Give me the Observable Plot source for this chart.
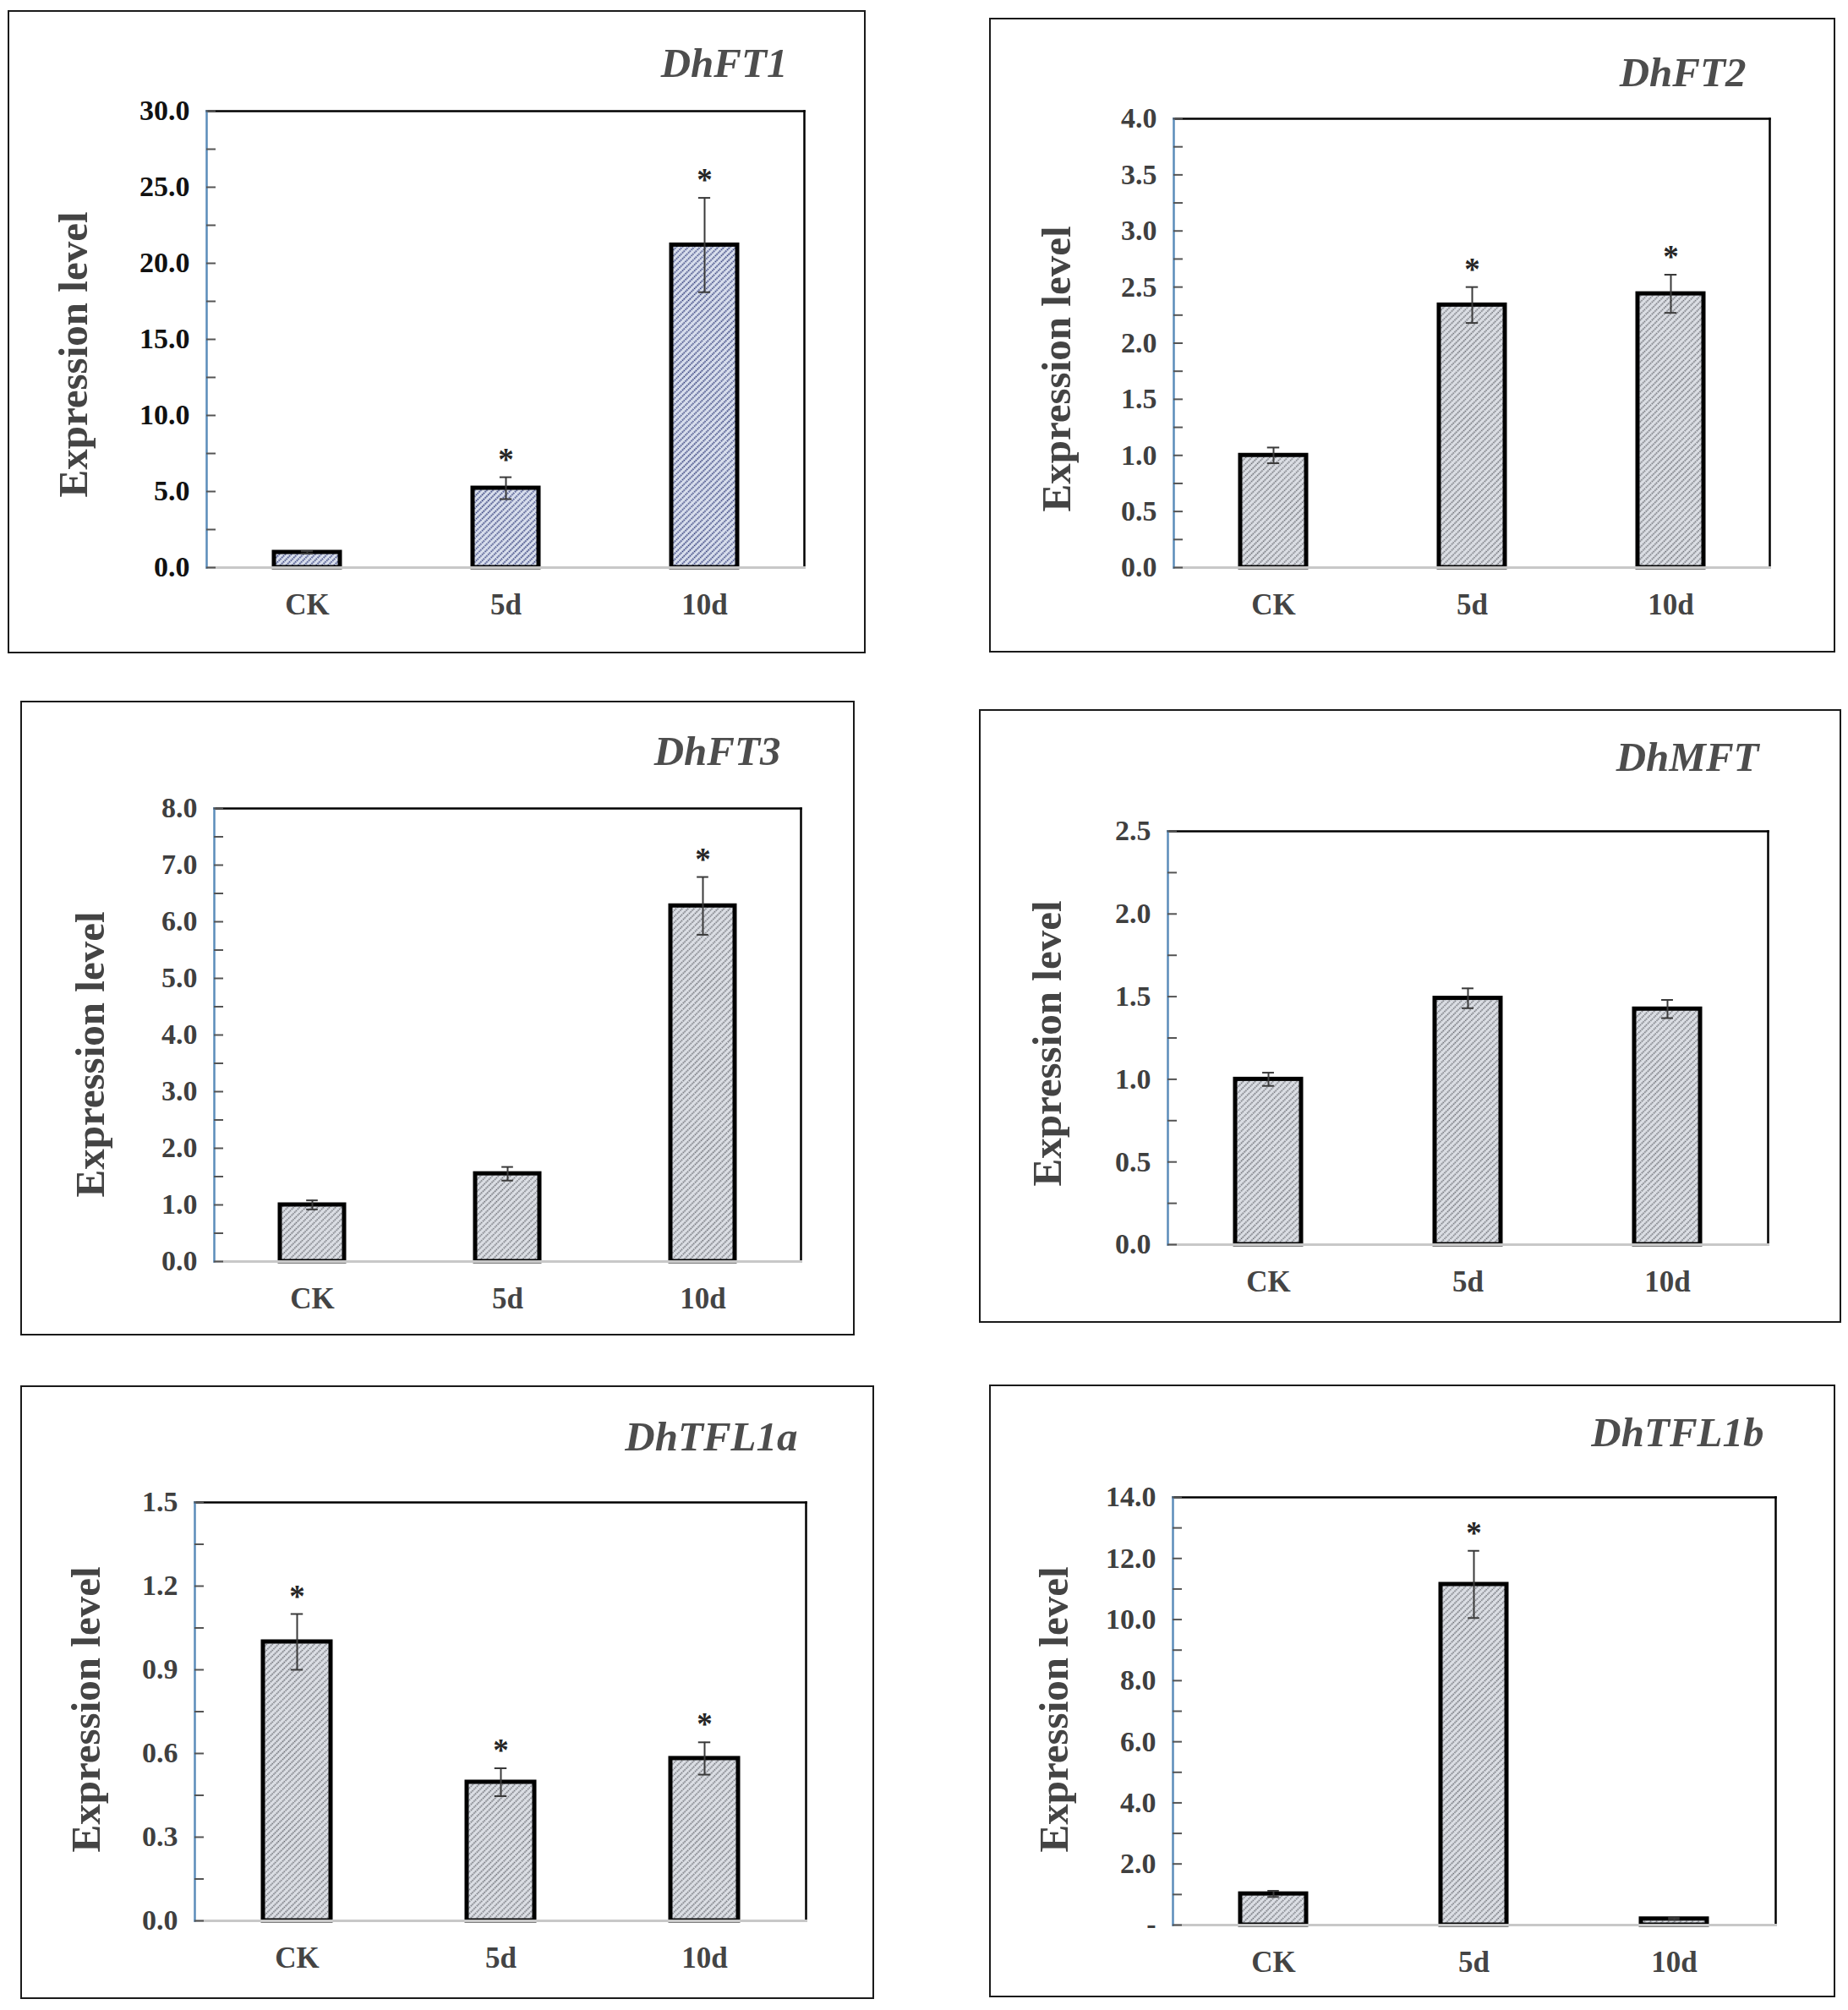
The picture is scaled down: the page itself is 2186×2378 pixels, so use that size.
<!DOCTYPE html>
<html><head><meta charset="utf-8">
<script src="https://cdn.jsdelivr.net/npm/d3@7"></script>
<script src="https://cdn.jsdelivr.net/npm/@observablehq/plot@0.6"></script>
<style>
html,body{margin:0;padding:0;background:#fff;}
#page{position:relative;width:2186px;height:2378px;background:#fff;overflow:hidden;}
.panel{position:absolute;}
.panel svg{display:block;max-width:none;}
.border{position:absolute;left:0;top:0;right:0;bottom:0;border:2.5px solid #1a1a1a;box-sizing:border-box;pointer-events:none;}
</style></head>
<body>
<svg width="0" height="0" style="position:absolute">
<defs>
<pattern id="hatchBlue" patternUnits="userSpaceOnUse" width="5" height="5" patternTransform="rotate(45)">
<rect width="5" height="5" fill="#dce2ef"/>
<line x1="2.5" y1="0" x2="2.5" y2="5" stroke="#1f2a6e" stroke-width="1.7" stroke-dasharray="1.6 0.9"/>
</pattern>
<pattern id="hatchGray" patternUnits="userSpaceOnUse" width="5" height="5" patternTransform="rotate(45)">
<rect width="5" height="5" fill="#dde0e6"/>
<line x1="2.5" y1="0" x2="2.5" y2="5" stroke="#62646b" stroke-width="1.6" stroke-dasharray="1.6 0.9"/>
</pattern>
</defs></svg>
<div id="page"></div>
<script>
const categories = ["CK", "5d", "10d"];

const dhFT1Mean = [1.0, 5.22, 21.2];
const dhFT1Err = [0.08, 0.72, 3.1];
const dhFT1Star = ["", "*", "*"];
const dhFT1Ticks = [0, 5, 10, 15, 20, 25, 30];
const dhFT1TickLabels = ["0.0", "5.0", "10.0", "15.0", "20.0", "25.0", "30.0"];

const dhFT2Mean = [1.0, 2.34, 2.44];
const dhFT2Err = [0.07, 0.16, 0.17];
const dhFT2Star = ["", "*", "*"];
const dhFT2Ticks = [0, 0.5, 1, 1.5, 2, 2.5, 3, 3.5, 4];
const dhFT2TickLabels = ["0.0", "0.5", "1.0", "1.5", "2.0", "2.5", "3.0", "3.5", "4.0"];

const dhFT3Mean = [1.0, 1.55, 6.28];
const dhFT3Err = [0.08, 0.12, 0.51];
const dhFT3Star = ["", "", "*"];
const dhFT3Ticks = [0, 1, 2, 3, 4, 5, 6, 7, 8];
const dhFT3TickLabels = ["0.0", "1.0", "2.0", "3.0", "4.0", "5.0", "6.0", "7.0", "8.0"];

const dhMFTMean = [1.0, 1.49, 1.425];
const dhMFTErr = [0.04, 0.06, 0.055];
const dhMFTStar = ["", "", ""];
const dhMFTTicks = [0, 0.5, 1, 1.5, 2, 2.5];
const dhMFTTickLabels = ["0.0", "0.5", "1.0", "1.5", "2.0", "2.5"];

const dhTFL1aMean = [1.0, 0.497, 0.582];
const dhTFL1aErr = [0.1, 0.05, 0.058];
const dhTFL1aStar = ["*", "*", "*"];
const dhTFL1aTicks = [0, 0.3, 0.6, 0.9, 1.2, 1.5];
const dhTFL1aTickLabels = ["0.0", "0.3", "0.6", "0.9", "1.2", "1.5"];

const dhTFL1bMean = [1.02, 11.15, 0.2];
const dhTFL1bErr = [0.1, 1.1, 0.03];
const dhTFL1bStar = ["", "*", ""];
const dhTFL1bTicks = [0, 2, 4, 6, 8, 10, 12, 14];
const dhTFL1bTickLabels = ["-", "2.0", "4.0", "6.0", "8.0", "10.0", "12.0", "14.0"];

const PAD = 0.67;

const panels = [
  {title: "DhFT1", mean: dhFT1Mean, err: dhFT1Err, star: dhFT1Star, ticks: dhFT1Ticks, labels: dhFT1TickLabels,
   pattern: "url(#hatchBlue)", tickColor: "#111", box: [9, 12, 1024, 773], plot: [244, 951, 131, 671],
   ylab: [87, 419], ttl: [931, 90]},
  {title: "DhFT2", mean: dhFT2Mean, err: dhFT2Err, star: dhFT2Star, ticks: dhFT2Ticks, labels: dhFT2TickLabels,
   pattern: "url(#hatchGray)", tickColor: "#3f3f3f", box: [1170, 21, 2171, 772], plot: [1388, 2093, 140, 671],
   ylab: [1250, 436], ttl: [2065, 101]},
  {title: "DhFT3", mean: dhFT3Mean, err: dhFT3Err, star: dhFT3Star, ticks: dhFT3Ticks, labels: dhFT3TickLabels,
   pattern: "url(#hatchGray)", tickColor: "#3f3f3f", box: [24, 829, 1011, 1580], plot: [253, 947, 956, 1492],
   ylab: [107, 1247], ttl: [923, 904]},
  {title: "DhMFT", mean: dhMFTMean, err: dhMFTErr, star: dhMFTStar, ticks: dhMFTTicks, labels: dhMFTTickLabels,
   pattern: "url(#hatchGray)", tickColor: "#3f3f3f", box: [1158, 839, 2178, 1565], plot: [1381, 2091, 983, 1472],
   ylab: [1239, 1234], ttl: [2080, 911]},
  {title: "DhTFL1a", mean: dhTFL1aMean, err: dhTFL1aErr, star: dhTFL1aStar, ticks: dhTFL1aTicks, labels: dhTFL1aTickLabels,
   pattern: "url(#hatchGray)", tickColor: "#3f3f3f", box: [24, 1639, 1034, 2365], plot: [230, 953, 1777, 2272],
   ylab: [102, 2022], ttl: [943, 1715]},
  {title: "DhTFL1b", mean: dhTFL1bMean, err: dhTFL1bErr, star: dhTFL1bStar, ticks: dhTFL1bTicks, labels: dhTFL1bTickLabels,
   pattern: "url(#hatchGray)", tickColor: "#3f3f3f", box: [1170, 1638, 2171, 2363], plot: [1387, 2100, 1771, 2277],
   ylab: [1247, 2022], ttl: [2086, 1710]}
];

const page = document.getElementById("page");

for (const p of panels) {
  const rows = categories.map((c, i) => ({cat: c, mean: p.mean[i], err: p.err[i], star: p.star[i]}));
  const W = p.box[2] - p.box[0], H = p.box[3] - p.box[1];
  const ML = p.plot[0] - p.box[0], MR = p.box[2] - p.plot[1];
  const MT = p.plot[2] - p.box[1], MB = p.box[3] - p.plot[3];
  const plotW = W - ML - MR;
  const bw = (plotW / 3) * (1 - PAD);
  const capInset = (bw - 14) / 2;
  const labelMap = new Map(p.ticks.map((t, i) => [t, p.labels[i]]));
  const half = (p.ticks[1] - p.ticks[0]) / 2;
  const allTicks = [];
  p.ticks.forEach((t, i) => { allTicks.push(t); if (i < p.ticks.length - 1) allTicks.push(t + half); });
  const yMax = p.ticks[p.ticks.length - 1];

  const chart = Plot.plot({
    width: W, height: H,
    marginLeft: ML, marginRight: MR, marginTop: MT, marginBottom: MB,
    style: {fontFamily: "'Liberation Serif', 'Times New Roman', serif", background: "transparent", overflow: "visible"},
    x: {domain: categories, paddingInner: PAD, paddingOuter: PAD / 2},
    y: {domain: [0, yMax]},
    marks: [
      Plot.barY(rows, {x: "cat", y: "mean", fill: p.pattern, stroke: "#000", strokeWidth: 5}),
      Plot.ruleX(rows, {x: "cat", y1: d => d.mean - d.err, y2: d => d.mean + d.err, stroke: "#3a3a3a", strokeWidth: 2}),
      Plot.tickY(rows, {x: "cat", y: d => d.mean + d.err, insetLeft: capInset, insetRight: capInset, stroke: "#3a3a3a", strokeWidth: 2}),
      Plot.tickY(rows, {x: "cat", y: d => d.mean - d.err, insetLeft: capInset, insetRight: capInset, stroke: "#3a3a3a", strokeWidth: 2}),
      Plot.text(rows.filter(d => d.star), {x: "cat", y: d => d.mean + d.err, text: "star", dy: -9, lineAnchor: "bottom",
        fontSize: 37, fontWeight: "bold", fill: "#262626"}),
      Plot.frame({anchor: "top", stroke: "#000", strokeWidth: 2.5}),
      Plot.frame({anchor: "right", stroke: "#000", strokeWidth: 2.5}),
      Plot.frame({anchor: "bottom", stroke: "#c8c8c8", strokeWidth: 3}),
      Plot.frame({anchor: "left", stroke: "#5b8cba", strokeWidth: 2.5}),
      Plot.axisY(allTicks, {tickSize: -11, tickFormat: () => "", stroke: "#555", strokeWidth: 2, label: null}),
      Plot.axisY(p.ticks, {tickSize: 0, tickPadding: 20, tickFormat: d => labelMap.get(d), fontSize: 34, fontWeight: "bold",
        fill: p.tickColor, label: null}),
      Plot.axisX({tickSize: 0, tickPadding: 31, fontSize: 35, fontWeight: "bold", fill: "#444", label: null}),
      Plot.text(["Expression level"], {text: d => d, frameAnchor: "left", rotate: -90,
        dx: p.ylab[0] - p.plot[0], dy: p.ylab[1] - (p.plot[2] + p.plot[3]) / 2,
        textAnchor: "middle", lineAnchor: "middle", fontSize: 49, fontWeight: "bold", fill: "#444"}),
      Plot.text([p.title], {text: d => d, frameAnchor: "top-right",
        dx: p.ttl[0] - p.plot[1], dy: p.ttl[1] - p.plot[2],
        textAnchor: "end", lineAnchor: "bottom", fontSize: 49, fontWeight: "bold", fontStyle: "italic", fill: "#4d4d4d"})
    ]
  });

  const div = document.createElement("div");
  div.className = "panel";
  div.style.left = p.box[0] + "px";
  div.style.top = p.box[1] + "px";
  div.style.width = W + "px";
  div.style.height = H + "px";
  div.appendChild(chart);
  const border = document.createElement("div");
  border.className = "border";
  div.appendChild(border);
  page.appendChild(div);
}
</script>
</body></html>
